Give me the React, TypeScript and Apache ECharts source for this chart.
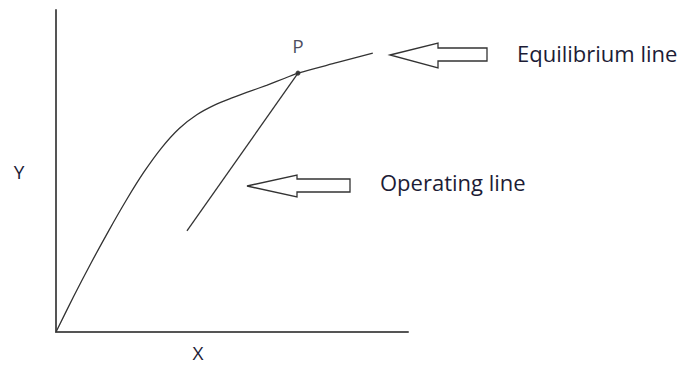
import React, { useEffect, useRef } from "react";
import * as echarts from "echarts";

// Equilibrium curve (arbitrary units)
const eqX = [0, 0.5, 1.0, 1.5, 2.0, 2.5, 3.0, 3.5, 4.0, 4.5, 5.0, 5.5, 6.0, 6.5, 6.875, 8.0, 9.0];
const eqY = [0, 1.1, 2.15, 3.15, 4.1, 4.97, 5.72, 6.32, 6.745, 7.045, 7.27, 7.47, 7.67, 7.88, 8.04, 8.37, 8.66];
// Operating line
const opX = [3.72, 6.875];
const opY = [3.14, 8.04];
// Point P
const pX = [6.875];
const pY = [8.04];
const pLabel = ["P"];

const TEXT = "#1c1c36";
const FONT = "'Open Sans', sans-serif";

export default function App() {
  const ref = useRef<HTMLDivElement>(null);
  useEffect(() => {
    if (!ref.current) return;
    const chart = echarts.init(ref.current, null, { renderer: "svg" });
    const hollow = { fill: "#fff", stroke: "#333", lineWidth: 1.3 };
    chart.setOption({
      animation: false,
      backgroundColor: "#fff",
      grid: { left: 56, top: 10, width: 352, height: 322 },
      xAxis: {
        type: "value", min: 0, max: 10,
        axisLine: { show: true, onZero: false, lineStyle: { color: "#555", width: 2 } },
        axisTick: { show: false }, axisLabel: { show: false }, splitLine: { show: false },
      },
      yAxis: {
        type: "value", min: 0, max: 10,
        axisLine: { show: true, onZero: false, lineStyle: { color: "#555", width: 2 } },
        axisTick: { show: false }, axisLabel: { show: false }, splitLine: { show: false },
      },
      series: [
        {
          type: "line", smooth: 0.3, symbol: "none",
          data: eqX.map((x, i) => [x, eqY[i]]),
          lineStyle: { color: "#333", width: 1.3 },
        },
        {
          type: "line", symbol: "none",
          data: opX.map((x, i) => [x, opY[i]]),
          lineStyle: { color: "#333", width: 1.3 },
        },
        {
          type: "scatter", symbolSize: 5,
          itemStyle: { color: "#111" },
          data: pX.map((x, i) => ({ value: [x, pY[i]], name: pLabel[i] })),
          label: {
            show: true, position: "top", distance: 15, formatter: "{b}",
            color: TEXT, fontFamily: FONT, fontSize: 19,
          },
        },
      ],
      graphic: [
        { type: "polygon", shape: { points: [[390, 55], [438, 43], [438, 48], [487, 48], [487, 61], [438, 61], [438, 68]] }, style: hollow },
        { type: "polygon", shape: { points: [[247, 186], [297, 175], [297, 179], [350, 179], [350, 192], [297, 192], [297, 197]] }, style: hollow },
        { type: "text", x: 517, y: 53, style: { text: "Equilibrium line", fill: TEXT, font: `22px ${FONT}`, textVerticalAlign: "middle" } },
        { type: "text", x: 380, y: 182, style: { text: "Operating line", fill: TEXT, font: `22px ${FONT}`, textVerticalAlign: "middle" } },
        { type: "text", x: 19, y: 172, style: { text: "Y", fill: TEXT, font: `19px ${FONT}`, textAlign: "center", textVerticalAlign: "middle" } },
        { type: "text", x: 198, y: 353, style: { text: "X", fill: TEXT, font: `19px ${FONT}`, textAlign: "center", textVerticalAlign: "middle" } },
      ],
    });
    return () => chart.dispose();
  }, []);
  return <div ref={ref} style={{ position: "fixed", left: 0, top: 0, width: 678, height: 367 }} />;
}
